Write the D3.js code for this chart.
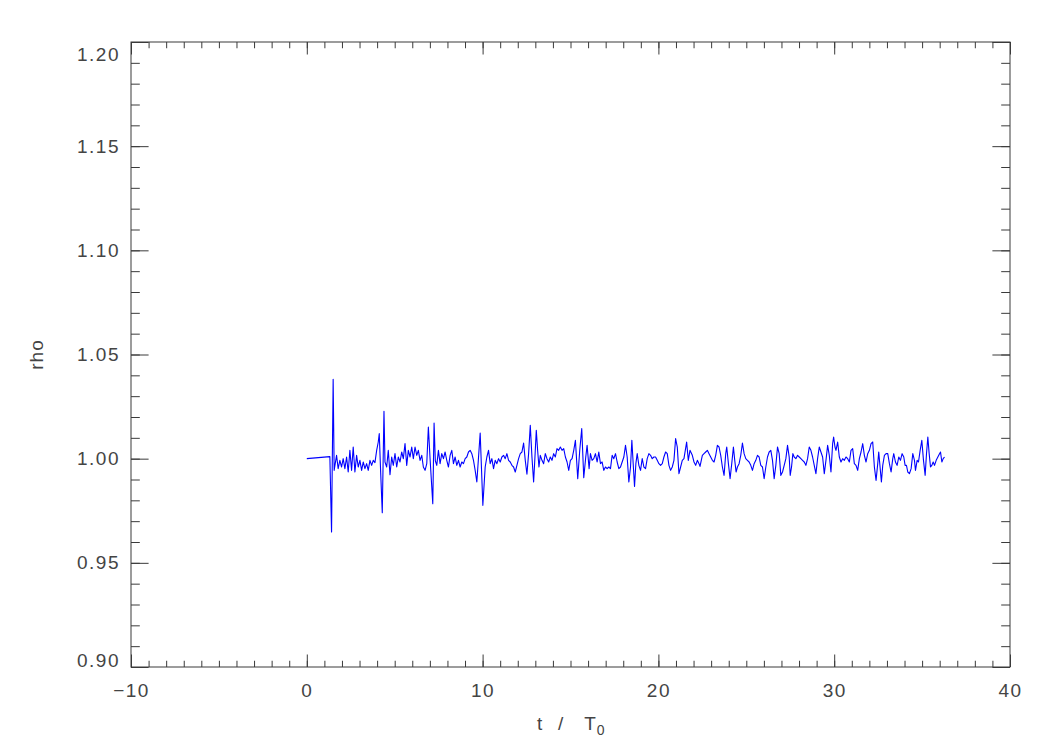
<!DOCTYPE html>
<html>
<head>
<meta charset="utf-8">
<script src="https://cdn.jsdelivr.net/npm/d3@7"></script>
<style>
  html, body { margin: 0; padding: 0; background: #ffffff; }
  svg { display: block; }
  text { font-family: "Liberation Sans", Arial, sans-serif; }
</style>
</head>
<body>
<svg id="chart" width="1050" height="750"></svg>
<script>
// ---- data ----
const xTicksMajor = [-10, 0, 10, 20, 30, 40];
const yTicksMajor = [0.90, 0.95, 1.00, 1.05, 1.10, 1.15, 1.20];
const xLabel = "t   /    T";
const xLabelSub = "0";
const yLabel = "rho";

const tVals = [
  0.000, 1.311, 1.408, 1.499, 1.556, 1.693, 1.784, 1.881, 1.978, 2.070,
  2.166, 2.263, 2.355, 2.451, 2.548, 2.640, 2.736, 2.833, 2.925, 3.021,
  3.118, 3.210, 3.307, 3.403, 3.495, 3.592, 3.688, 3.780, 3.877, 3.974,
  4.065, 4.122, 4.201, 4.293, 4.390, 4.447, 4.544, 4.635, 4.732, 4.829,
  4.920, 5.017, 5.114, 5.205, 5.302, 5.399, 5.490, 5.587, 5.684, 5.775,
  5.872, 5.969, 6.060, 6.157, 6.254, 6.345, 6.442, 6.539, 6.630, 6.727,
  6.824, 6.915, 7.012, 7.166, 7.240, 7.310,
  7.392, 7.487, 7.582, 7.677, 7.772, 7.867, 7.962, 8.057, 8.152, 8.247,
  8.342, 8.437, 8.532, 8.627, 8.722, 8.817, 8.912, 9.007, 9.102, 9.197,
  9.292, 9.387, 9.482, 9.577, 9.672, 9.862, 10.014, 10.147, 10.242, 10.337,
  10.432, 10.527, 10.622, 10.717, 10.812, 10.907, 11.002, 11.097, 11.192, 11.287,
  11.382, 11.477, 11.572, 11.667, 11.762, 11.857, 11.952, 12.047, 12.142, 12.237,
  12.332, 12.427, 12.522, 12.617, 12.712, 12.807, 12.902, 12.978, 13.054, 13.130,
  13.206, 13.282, 13.377, 13.472, 13.567, 13.662, 13.757, 13.852, 13.947, 14.042,
  14.137, 14.232, 14.327, 14.422,
  14.519, 14.614, 14.709, 14.804, 14.899, 14.994, 15.089, 15.184, 15.279, 15.412,
  15.526, 15.640, 15.754, 15.868, 15.944, 16.058, 16.134, 16.229, 16.324, 16.419,
  16.514, 16.609, 16.704, 16.799, 16.894, 16.989, 17.084, 17.179, 17.274, 17.369,
  17.464, 17.559, 17.654, 17.749, 17.844, 17.939, 18.034, 18.129, 18.224, 18.319,
  18.414, 18.490, 18.566, 18.642, 18.718, 18.794, 18.889, 18.984, 19.079, 19.174,
  19.269, 19.364, 19.459, 19.554, 19.649, 19.744, 19.839, 19.934, 20.029, 20.124,
  20.219, 20.314, 20.409, 20.504, 20.599, 20.694, 20.789, 20.884, 20.979, 21.074,
  21.169, 21.264, 21.359, 21.454, 21.606, 21.701, 21.796,
  21.930, 22.025, 22.120, 22.215, 22.310, 22.367, 22.500, 22.595, 22.690, 22.785,
  22.880, 22.975, 23.070, 23.165, 23.260, 23.355, 23.450, 23.545, 23.640, 23.735,
  23.830, 23.887, 23.982, 24.077, 24.172, 24.267, 24.343, 24.419, 24.495, 24.590,
  24.685, 24.780, 24.875, 24.970, 25.065, 25.160, 25.255, 25.350, 25.445, 25.540,
  25.635, 25.730, 25.825, 25.920, 26.015, 26.110, 26.205, 26.300, 26.395, 26.490,
  26.585, 26.680, 26.775, 26.870, 26.965, 27.060, 27.155, 27.250, 27.345, 27.440,
  27.497, 27.573, 27.649, 27.725, 27.820, 27.915, 28.010, 28.105, 28.200, 28.295,
  28.390, 28.485, 28.580, 28.675, 28.770, 28.865, 28.960, 29.055, 29.150,
  29.341, 29.436, 29.531, 29.626, 29.721, 29.816, 29.911, 29.968, 30.044, 30.101,
  30.196, 30.291, 30.386, 30.481, 30.576, 30.671, 30.766, 30.861, 30.956, 31.051,
  31.146, 31.241, 31.336, 31.431, 31.526, 31.621, 31.716, 31.811, 31.906, 32.001,
  32.096, 32.191, 32.286, 32.381, 32.476, 32.533, 32.609, 32.685, 32.761, 32.856,
  32.951, 33.046, 33.141, 33.236, 33.331, 33.388, 33.483, 33.578, 33.673, 33.768,
  33.863, 33.958, 34.034, 34.110, 34.186, 34.281, 34.376, 34.471, 34.566, 34.623,
  34.718, 34.794, 34.889, 34.984, 35.079, 35.174, 35.250, 35.326, 35.402, 35.478,
  35.554, 35.630, 35.706, 35.801, 35.896, 35.991, 36.048, 36.124, 36.200, 36.276
];

const rhoVals = [
  1.0000, 1.0010, 0.9648, 1.0381, 0.9944, 1.0016, 0.9952, 0.9992, 0.9960, 1.0000,
  0.9952, 1.0008, 0.9936, 1.0040, 0.9944, 1.0056, 0.9936, 1.0016, 0.9960, 0.9992,
  0.9944, 0.9984, 0.9952, 0.9976, 0.9944, 0.9992, 0.9968, 0.9992, 0.9981, 1.0040,
  1.0080, 1.0120, 0.9936, 0.9741, 1.0227, 0.9984, 0.9960, 1.0040, 0.9923, 1.0008,
  0.9968, 1.0024, 0.9960, 1.0008, 0.9984, 1.0032, 1.0000, 1.0072, 0.9968, 1.0040,
  1.0008, 1.0056, 1.0000, 1.0056, 1.0016, 1.0040, 0.9992, 1.0016, 0.9960, 0.9944,
  0.9976, 1.0152, 1.0000, 0.9784, 1.0171, 0.9990,
  0.9968, 1.0040, 0.9976, 1.0024, 1.0000, 1.0032, 0.9992, 0.9960, 1.0016, 1.0040,
  0.9976, 1.0008, 0.9968, 0.9992, 0.9960, 0.9984, 0.9976, 1.0000, 1.0008, 1.0032,
  1.0040, 1.0024, 0.9992, 0.9944, 0.9888, 1.0123, 0.9776, 0.9960, 1.0008, 1.0040,
  0.9976, 1.0000, 0.9952, 0.9992, 0.9976, 1.0000, 0.9984, 1.0008, 1.0016, 1.0000,
  1.0024, 0.9992, 0.9984, 0.9968, 0.9960, 0.9936, 0.9968, 1.0000, 1.0024, 1.0032,
  1.0075, 0.9992, 0.9925, 1.0024, 1.0160, 1.0008, 0.9888, 1.0008, 1.0136, 1.0040,
  0.9960, 1.0016, 0.9992, 0.9976, 1.0024, 1.0000, 0.9984, 1.0008, 0.9992, 1.0024,
  1.0008, 1.0048, 1.0040, 1.0056,
  1.0040, 1.0048, 1.0008, 0.9984, 0.9944, 0.9992, 1.0000, 1.0040, 1.0088, 0.9904,
  1.0040, 1.0144, 0.9909, 1.0008, 1.0064, 0.9952, 1.0024, 0.9992, 1.0000, 1.0024,
  0.9984, 1.0032, 0.9976, 0.9984, 0.9944, 0.9960, 0.9952, 0.9960, 0.9952, 1.0016,
  1.0000, 1.0024, 0.9984, 0.9952, 0.9960, 0.9984, 1.0008, 1.0064, 1.0008, 0.9888,
  0.9960, 1.0088, 0.9976, 0.9867, 0.9976, 1.0024, 0.9968, 0.9944, 1.0000, 0.9960,
  0.9952, 1.0000, 1.0024, 1.0016, 1.0000, 1.0008, 1.0008, 0.9992, 0.9976, 0.9968,
  0.9976, 1.0008, 1.0032, 1.0024, 0.9968, 0.9944, 0.9960, 0.9992, 1.0096, 1.0056,
  0.9928, 0.9960, 0.9992, 1.0000, 1.0080, 0.9992, 1.0040,
  1.0016, 0.9984, 0.9968, 0.9992, 0.9976, 0.9963, 1.0016, 1.0024, 1.0032, 1.0040,
  1.0024, 1.0008, 0.9992, 0.9984, 1.0016, 1.0064, 1.0056, 1.0016, 0.9960, 0.9920,
  1.0024, 1.0056, 0.9976, 0.9904, 0.9976, 1.0056, 0.9992, 0.9936, 0.9960, 0.9976,
  1.0016, 1.0075, 1.0024, 1.0000, 0.9992, 0.9984, 0.9968, 0.9944, 0.9976, 0.9992,
  1.0016, 1.0008, 0.9968, 0.9960, 0.9904, 0.9960, 1.0008, 1.0032, 1.0040, 0.9992,
  0.9904, 0.9968, 1.0056, 1.0024, 0.9920, 0.9936, 0.9968, 1.0000, 1.0064, 1.0008,
  0.9920, 0.9960, 1.0024, 1.0008, 1.0000, 1.0016, 1.0008, 1.0000, 0.9992, 0.9984,
  0.9968, 1.0000, 1.0056, 1.0040, 1.0008, 0.9968, 0.9928, 1.0000, 1.0056,
  1.0008, 0.9928, 0.9992, 1.0064, 1.0016, 0.9936, 1.0072, 1.0104, 1.0056, 1.0040,
  1.0080, 1.0008, 0.9984, 1.0000, 0.9992, 1.0008, 1.0000, 0.9984, 1.0040, 1.0048,
  0.9976, 0.9968, 0.9944, 1.0000, 1.0032, 1.0072, 1.0016, 0.9984, 1.0024, 1.0040,
  1.0072, 1.0080, 0.9960, 0.9896, 0.9976, 1.0032, 0.9960, 0.9888, 0.9968, 1.0016,
  1.0024, 1.0024, 0.9976, 0.9936, 1.0000, 1.0024, 0.9984, 0.9968, 1.0008, 0.9992,
  1.0024, 1.0008, 0.9968, 0.9968, 0.9936, 0.9928, 0.9952, 1.0024, 0.9992, 0.9944,
  0.9992, 0.9984, 1.0040, 1.0088, 0.9992, 0.9920, 1.0024, 1.0104, 1.0024, 0.9960,
  0.9968, 0.9984, 0.9968, 0.9992, 1.0008, 1.0024, 1.0032, 0.9984, 1.0000, 1.0008
];

// ---- layout ----
const svg = d3.select("#chart");
const L = 131, R = 1010, T = 42, B = 667;
const axisColor = "#3a3a3a";
const textColor = "#444444";
const fontSize = 19;

const x = d3.scaleLinear().domain([-10, 40]).range([L, R]);
const y = d3.scaleLinear().domain([0.90, 1.20]).range([B, T]);

const xMajLen = 12.5, xMinLen = 6.25;
const yMajLen = 17.6, yMinLen = 8.8;

const xMinor = d3.range(-10, 40.001, 1);
const yMinor = d3.range(0, 31).map(i => 0.90 + i * 0.01);

function styleAxis(g) {
  g.select(".domain").remove();
  g.selectAll(".tick line").attr("stroke", axisColor).attr("stroke-width", 1);
  g.selectAll(".tick text").attr("fill", textColor)
    .style("font-size", fontSize + "px").style("font-family", "'Liberation Sans', Arial, sans-serif");
}

// bottom axis: minor
svg.append("g").attr("transform", `translate(0,${B})`)
  .call(d3.axisBottom(x).tickValues(xMinor).tickSizeInner(-xMinLen).tickSizeOuter(0).tickFormat(""))
  .call(styleAxis);
// bottom axis: major with labels
const gxb = svg.append("g").attr("transform", `translate(0,${B})`)
  .call(d3.axisBottom(x).tickValues(xTicksMajor).tickSizeInner(-xMajLen).tickSizeOuter(0)
    .tickPadding(17).tickFormat(d3.format("d")))
  .call(styleAxis);
gxb.selectAll(".tick text").attr("letter-spacing", "1.5px");

// top axis
svg.append("g").attr("transform", `translate(0,${T})`)
  .call(d3.axisTop(x).tickValues(xMinor).tickSizeInner(-xMinLen).tickSizeOuter(0).tickFormat(""))
  .call(styleAxis);
svg.append("g").attr("transform", `translate(0,${T})`)
  .call(d3.axisTop(x).tickValues(xTicksMajor).tickSizeInner(-xMajLen).tickSizeOuter(0).tickFormat(""))
  .call(styleAxis);

// left axis
svg.append("g").attr("transform", `translate(${L},0)`)
  .call(d3.axisLeft(y).tickValues(yMinor).tickSizeInner(-yMinLen).tickSizeOuter(0).tickFormat(""))
  .call(styleAxis);
const gyl = svg.append("g").attr("transform", `translate(${L},0)`)
  .call(d3.axisLeft(y).tickValues(yTicksMajor).tickSizeInner(-yMajLen).tickSizeOuter(0)
    .tickPadding(11).tickFormat(d3.format(".2f")))
  .call(styleAxis);
gyl.selectAll(".tick text").attr("letter-spacing", "1.5px")
  .attr("dy", d => d >= 1.199 ? "0.95em" : (d <= 0.901 ? "-0.05em" : "0.32em"));

// right axis
svg.append("g").attr("transform", `translate(${R},0)`)
  .call(d3.axisRight(y).tickValues(yMinor).tickSizeInner(-yMinLen).tickSizeOuter(0).tickFormat(""))
  .call(styleAxis);
svg.append("g").attr("transform", `translate(${R},0)`)
  .call(d3.axisRight(y).tickValues(yTicksMajor).tickSizeInner(-yMajLen).tickSizeOuter(0).tickFormat(""))
  .call(styleAxis);

// frame
svg.append("rect").attr("x", L).attr("y", T).attr("width", R - L).attr("height", B - T)
  .attr("fill", "none").attr("stroke", axisColor).attr("stroke-width", 1);

// data line
const data = tVals.map((t, i) => [t, rhoVals[i]]);
svg.append("path").datum(data)
  .attr("fill", "none").attr("stroke", "#0000ff").attr("stroke-width", 1.1)
  .attr("stroke-linejoin", "round")
  .attr("d", d3.line().x(d => x(d[0])).y(d => y(d[1])));

// axis titles
const xt = svg.append("text")
  .attr("x", 537).attr("y", 730).attr("text-anchor", "start")
  .attr("fill", textColor).style("font-size", fontSize + "px").style("white-space", "pre");
xt.append("tspan").text(xLabel);
xt.append("tspan").attr("dy", 5).attr("dx", 1).style("font-size", "14px").text(xLabelSub);

svg.append("text")
  .attr("transform", `translate(43,${(T + B) / 2}) rotate(-90)`)
  .attr("text-anchor", "middle").attr("fill", textColor)
  .style("font-size", fontSize + "px").attr("letter-spacing", "1px").text(yLabel);
</script>
</body>
</html>
